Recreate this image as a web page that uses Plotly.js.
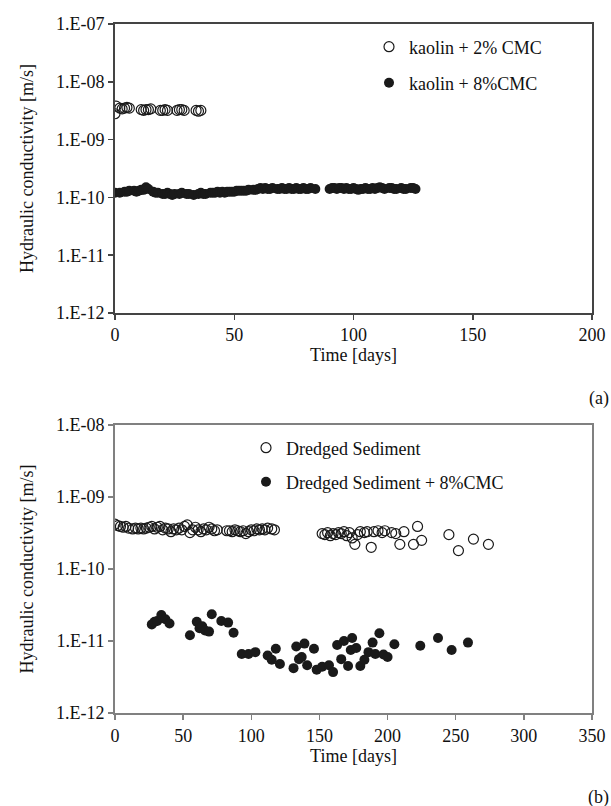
<!DOCTYPE html>
<html>
<head>
<meta charset="utf-8">
<script src="https://cdn.plot.ly/plotly-3.0.1.min.js"></script>
<style>html,body{margin:0;padding:0;background:#fff;}#chart{width:611px;height:806px;}</style>
</head>
<body>
<div id="chart"></div>
<script>
// ---- Panel (a): kaolin ----
const kaolin2Days = [0, 0.5, 2, 3, 4, 5, 6, 11, 12, 13, 14, 15, 19, 20, 21, 22, 26, 27, 28, 29, 34, 35, 36];
const kaolin2K = [2.8e-9, 3.8e-9, 3.5e-9, 3.4e-9, 3.5e-9, 3.6e-9, 3.5e-9, 3.3e-9, 3.2e-9, 3.3e-9, 3.3e-9, 3.4e-9, 3.2e-9, 3.2e-9, 3.3e-9, 3.2e-9, 3.2e-9, 3.3e-9, 3.3e-9, 3.2e-9, 3.2e-9, 3.1e-9, 3.2e-9];

const kaolin8Days = [0, 2, 4, 5, 6, 8, 9, 10, 11, 12, 13, 14, 16, 17, 18, 20, 21, 22, 23, 24, 25, 27, 28, 30, 31, 33, 35, 36, 37, 38, 40, 41, 42, 43, 44, 45, 46, 47, 48, 49, 50, 51, 52, 53, 54, 55, 56, 58, 59, 60, 61, 62, 63, 64, 65, 66, 68, 69, 70, 71, 72, 73, 74, 75, 76, 77, 78, 79, 80, 81, 82, 84, 90, 91, 92, 93, 94, 95, 96, 97, 98, 99, 100, 101, 102, 103, 104, 105, 106, 107, 108, 109, 110, 111, 112, 113, 115, 116, 117, 118, 120, 121, 122, 124, 125, 126];
const kaolin8K = [1.2e-10, 1.2e-10, 1.25e-10, 1.25e-10, 1.3e-10, 1.3e-10, 1.25e-10, 1.3e-10, 1.35e-10, 1.35e-10, 1.5e-10, 1.4e-10, 1.25e-10, 1.2e-10, 1.2e-10, 1.15e-10, 1.15e-10, 1.2e-10, 1.15e-10, 1.1e-10, 1.15e-10, 1.15e-10, 1.2e-10, 1.15e-10, 1.15e-10, 1.1e-10, 1.15e-10, 1.2e-10, 1.15e-10, 1.15e-10, 1.2e-10, 1.2e-10, 1.2e-10, 1.25e-10, 1.2e-10, 1.25e-10, 1.2e-10, 1.25e-10, 1.25e-10, 1.25e-10, 1.25e-10, 1.3e-10, 1.3e-10, 1.3e-10, 1.3e-10, 1.3e-10, 1.35e-10, 1.35e-10, 1.35e-10, 1.4e-10, 1.45e-10, 1.4e-10, 1.45e-10, 1.4e-10, 1.4e-10, 1.45e-10, 1.4e-10, 1.4e-10, 1.45e-10, 1.4e-10, 1.4e-10, 1.45e-10, 1.4e-10, 1.4e-10, 1.45e-10, 1.4e-10, 1.4e-10, 1.45e-10, 1.4e-10, 1.4e-10, 1.45e-10, 1.4e-10, 1.4e-10, 1.45e-10, 1.45e-10, 1.4e-10, 1.45e-10, 1.45e-10, 1.4e-10, 1.45e-10, 1.4e-10, 1.4e-10, 1.45e-10, 1.4e-10, 1.35e-10, 1.4e-10, 1.4e-10, 1.45e-10, 1.4e-10, 1.4e-10, 1.45e-10, 1.4e-10, 1.45e-10, 1.5e-10, 1.45e-10, 1.4e-10, 1.45e-10, 1.45e-10, 1.4e-10, 1.4e-10, 1.45e-10, 1.4e-10, 1.4e-10, 1.45e-10, 1.45e-10, 1.4e-10];

// ---- Panel (b): dredged sediment ----
const sedDays = [0, 2, 4, 6, 8, 10, 13, 15, 17, 19, 21, 23, 25, 27, 29, 31, 33, 35, 37, 39, 41, 43, 45, 47, 49, 51, 53, 55, 57, 59, 61, 63, 65, 67, 69, 71, 73, 75, 82, 84, 86, 88, 90, 92, 94, 96, 98, 100, 102, 104, 106, 108, 110, 112, 115, 117, 152, 154, 156, 158, 160, 162, 164, 166, 168, 170, 172, 174, 176, 178, 180, 183, 185, 188, 190, 193, 196, 198, 203, 206, 209, 212, 219, 222, 225, 245, 252, 263, 274];
const sedK = [4.2e-10, 4.0e-10, 3.9e-10, 3.8e-10, 3.9e-10, 3.7e-10, 3.6e-10, 3.7e-10, 3.6e-10, 3.7e-10, 3.6e-10, 3.7e-10, 3.8e-10, 3.9e-10, 3.6e-10, 3.8e-10, 3.9e-10, 3.5e-10, 3.7e-10, 3.6e-10, 3.3e-10, 3.6e-10, 3.5e-10, 3.7e-10, 3.5e-10, 3.9e-10, 4.1e-10, 3.2e-10, 3.5e-10, 3.8e-10, 3.5e-10, 3.3e-10, 3.6e-10, 3.5e-10, 3.8e-10, 3.6e-10, 3.4e-10, 3.5e-10, 3.4e-10, 3.4e-10, 3.3e-10, 3.5e-10, 3.4e-10, 3.3e-10, 3.4e-10, 3.1e-10, 3.3e-10, 3.5e-10, 3.4e-10, 3.6e-10, 3.5e-10, 3.6e-10, 3.5e-10, 3.7e-10, 3.6e-10, 3.5e-10, 3.1e-10, 3.0e-10, 3.2e-10, 2.9e-10, 3.1e-10, 3.0e-10, 3.2e-10, 3.1e-10, 3.3e-10, 2.9e-10, 3.2e-10, 2.7e-10, 2.2e-10, 3.0e-10, 3.3e-10, 3.2e-10, 3.3e-10, 2.0e-10, 3.3e-10, 3.4e-10, 3.2e-10, 3.4e-10, 3.2e-10, 3.1e-10, 2.2e-10, 3.3e-10, 2.2e-10, 3.9e-10, 2.5e-10, 3.0e-10, 1.8e-10, 2.6e-10, 2.2e-10];

const sedCmcDays = [27, 29, 31, 34, 37, 40, 55, 60, 62, 64, 66, 69, 71, 78, 83, 87, 93, 98, 103, 112, 115, 118, 121, 131, 133, 135, 137, 139, 141, 146, 148, 152, 157, 160, 163, 166, 168, 171, 173, 174, 177, 180, 183, 186, 189, 191, 194, 197, 200, 205, 224, 237, 247, 259];
const sedCmcK = [1.7e-11, 1.85e-11, 1.9e-11, 2.3e-11, 2.0e-11, 1.75e-11, 1.2e-11, 1.85e-11, 1.5e-11, 1.6e-11, 1.4e-11, 1.35e-11, 2.35e-11, 1.9e-11, 1.8e-11, 1.3e-11, 6.6e-12, 6.6e-12, 7.0e-12, 6.3e-12, 5.5e-12, 7.8e-12, 4.8e-12, 4.2e-12, 8.4e-12, 5.6e-12, 6.0e-12, 9.2e-12, 4.6e-12, 7.8e-12, 4.0e-12, 4.4e-12, 4.6e-12, 3.7e-12, 8.8e-12, 5.6e-12, 1.0e-11, 4.5e-12, 7.5e-12, 1.1e-11, 8.0e-12, 4.5e-12, 5.5e-12, 7.0e-12, 9.5e-12, 6.6e-12, 1.28e-11, 6.5e-12, 6.0e-12, 9.0e-12, 8.6e-12, 1.1e-11, 7.5e-12, 9.5e-12];

const yTicksA = [1e-12, 1e-11, 1e-10, 1e-9, 1e-8, 1e-7];
const yTickTextA = ['1.E-12', '1.E-11', '1.E-10', '1.E-09', '1.E-08', '1.E-07'];
const yTicksB = [1e-12, 1e-11, 1e-10, 1e-9, 1e-8];
const yTickTextB = ['1.E-12', '1.E-11', '1.E-10', '1.E-09', '1.E-08'];
const xTicksA = [0, 50, 100, 150, 200];
const xTicksB = [0, 50, 100, 150, 200, 250, 300, 350];

const W = 611, H = 806;
const FONT = 'Liberation Serif, Times New Roman, serif';
const FS = 18;
const openMarker = (s) => ({symbol: 'circle-open', size: s, color: '#1a1a1a', line: {width: 1.2, color: '#1a1a1a'}});
const fillMarker = (s) => ({symbol: 'circle', size: s, color: '#1a1a1a', line: {width: 0}});

const traces = [
  {x: kaolin2Days, y: kaolin2K, name: 'kaolin + 2% CMC', mode: 'markers', type: 'scatter', xaxis: 'x', yaxis: 'y', marker: openMarker(10), legend: 'legend'},
  {x: kaolin8Days, y: kaolin8K, name: 'kaolin + 8%CMC', mode: 'markers', type: 'scatter', xaxis: 'x', yaxis: 'y', marker: fillMarker(10), legend: 'legend2'},
  {x: sedDays, y: sedK, name: 'Dredged Sediment', mode: 'markers', type: 'scatter', xaxis: 'x2', yaxis: 'y2', marker: openMarker(10), legend: 'legend3'},
  {x: sedCmcDays, y: sedCmcK, name: 'Dredged Sediment + 8%CMC', mode: 'markers', type: 'scatter', xaxis: 'x2', yaxis: 'y2', marker: fillMarker(10), legend: 'legend4'}
];

const px = (v) => v / W;
const py = (v) => 1 - v / H;
const xDom = [px(115), px(592)];
const txt = {family: FONT, size: FS, color: '#111'};

function axisBase(color, lw) {
  return {
    showline: true, linecolor: color, linewidth: lw, mirror: true,
    ticks: 'outside', ticklen: 5, tickwidth: 1.5, tickcolor: color,
    showgrid: false, zeroline: false,
    tickfont: txt
  };
}

function legendAt(xp, yp) {
  return {x: px(xp), y: py(yp), xanchor: 'left', yanchor: 'middle', bgcolor: 'rgba(0,0,0,0)',
          font: txt, itemwidth: 30, borderwidth: 0};
}

const layout = {
  width: W, height: H,
  margin: {l: 0, r: 0, t: 0, b: 0},
  paper_bgcolor: '#fff', plot_bgcolor: '#fff',
  showlegend: true,
  xaxis: Object.assign(axisBase('#444', 1.8), {domain: xDom, range: [0, 200], tickvals: xTicksA, anchor: 'y',
    title: {text: 'Time [days]', font: txt, standoff: 4}}),
  yaxis: Object.assign(axisBase('#444', 1.8), {domain: [py(313), py(24)], type: 'log', range: [-12, -7], tickvals: yTicksA, ticktext: yTickTextA, anchor: 'x',
    title: {text: 'Hydraulic conductivity [m/s]', font: txt, standoff: 18}}),
  xaxis2: Object.assign(axisBase('#808080', 2), {domain: xDom, range: [0, 350], tickvals: xTicksB, anchor: 'y2',
    title: {text: 'Time [days]', font: txt, standoff: 4}}),
  yaxis2: Object.assign(axisBase('#808080', 2), {domain: [py(713), py(425)], type: 'log', range: [-12, -8], tickvals: yTicksB, ticktext: yTickTextB, anchor: 'x2',
    title: {text: 'Hydraulic conductivity [m/s]', font: txt, standoff: 18}}),
  legend: legendAt(369, 47),
  legend2: legendAt(369, 83),
  legend3: legendAt(246, 448),
  legend4: legendAt(246, 482),
  annotations: [
    {text: '(a)', xref: 'paper', yref: 'paper', x: px(611), y: py(398), xanchor: 'right', yanchor: 'middle', showarrow: false, font: txt},
    {text: '(b)', xref: 'paper', yref: 'paper', x: px(611), y: py(797), xanchor: 'right', yanchor: 'middle', showarrow: false, font: txt}
  ]
};

Plotly.newPlot('chart', traces, layout, {staticPlot: true, displayModeBar: false});
</script>
</body>
</html>
